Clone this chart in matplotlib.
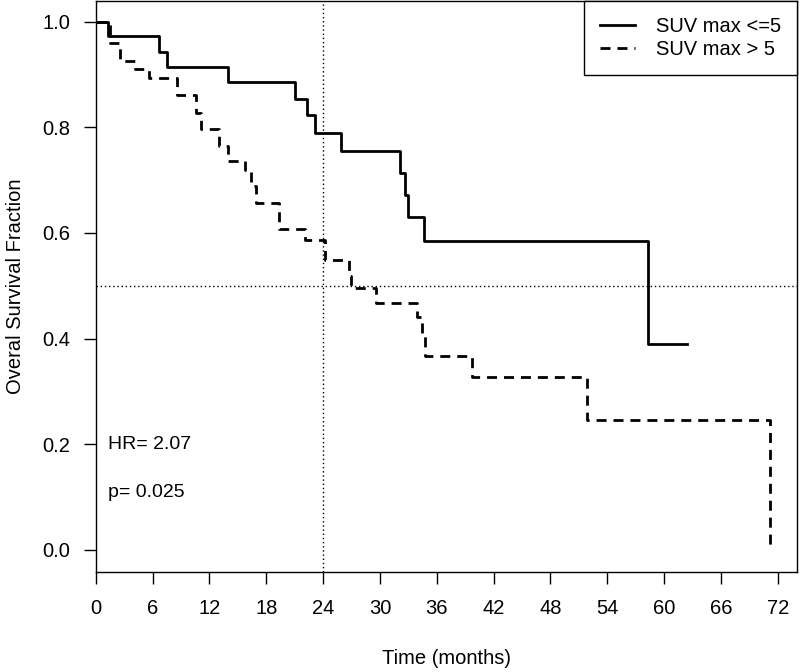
import numpy as np
import matplotlib.pyplot as plt

plt.rcParams['font.family'] = ['Liberation Sans', 'DejaVu Sans']

# Kaplan-Meier steps (months, survival fraction)
low_t = [0, 1.3, 6.7, 7.5, 14.0, 21.0, 22.35, 23.1, 25.9, 32.1, 32.6, 33.0, 34.6, 58.3, 62.4]
low_s = [1.0, 0.973, 0.943, 0.915, 0.886, 0.854, 0.823, 0.790, 0.755, 0.714, 0.671, 0.630, 0.585, 0.390, 0.390]

high_t = [0, 1.5, 2.6, 4.2, 5.6, 8.6, 10.6, 11.1, 13.0, 14.0, 15.8, 16.4, 16.9, 19.4, 22.1,
          24.2, 26.7, 27.0, 29.6, 33.9, 34.4, 34.75, 39.7, 51.9, 71.2]
high_s = [1.0, 0.960, 0.925, 0.910, 0.893, 0.861, 0.827, 0.797, 0.765, 0.736, 0.719, 0.688, 0.657, 0.608, 0.587,
          0.549, 0.519, 0.496, 0.468, 0.44, 0.41, 0.367, 0.327, 0.246, 0.0]

labels = ["SUV max <=5", "SUV max > 5"]
x_ticks = np.arange(0, 73, 6)
y_ticks = [0.0, 0.2, 0.4, 0.6, 0.8, 1.0]

fig = plt.figure(figsize=(8, 6.72), dpi=100)
ax = fig.add_axes([0.1196, 0.1488, 0.8764, 0.8497])

ax.step(low_t, low_s, where="post", color="black", lw=2, label=labels[0])
ax.step(high_t, high_s, where="post", color="black", lw=2, linestyle=(0, (3.6, 2.5)), label=labels[1])

# reference lines at 24 months and median survival
ax.axvline(24, color="black", lw=1, linestyle=(0, (1, 2)))
ax.axhline(0.5, color="black", lw=1, linestyle=(0, (1, 2)))

ax.text(1.3, 0.2, "HR= 2.07", fontsize=14, va="center", ha="left")
ax.text(1.3, 0.108, "p= 0.025", fontsize=14, va="center", ha="left")

ax.set_xlim(0, 74)
ax.set_ylim(-0.042, 1.039)
ax.set_xticks(x_ticks)
ax.set_yticks(y_ticks)
ax.set_yticklabels([f"{v:.1f}" for v in y_ticks])
ax.tick_params(axis="both", labelsize=14.5, length=8.5, width=1, direction="out")
ax.tick_params(axis="y", pad=10)
ax.tick_params(axis="x", pad=11)
for s in ax.spines.values():
    s.set_linewidth(1)

ax.set_xlabel("Time (months)", fontsize=14.5, labelpad=22)
ax.set_ylabel("Overal Survival Fraction", fontsize=14.5, labelpad=12)

leg = ax.legend(loc="upper right", fontsize=14.5, frameon=True, fancybox=False,
                edgecolor="black", framealpha=1, borderaxespad=0, borderpad=0.8,
                handlelength=1.75, handletextpad=1.0, labelspacing=0.2)
leg.get_frame().set_linewidth(1)

plt.savefig("out.png", dpi=100)
plt.close()
